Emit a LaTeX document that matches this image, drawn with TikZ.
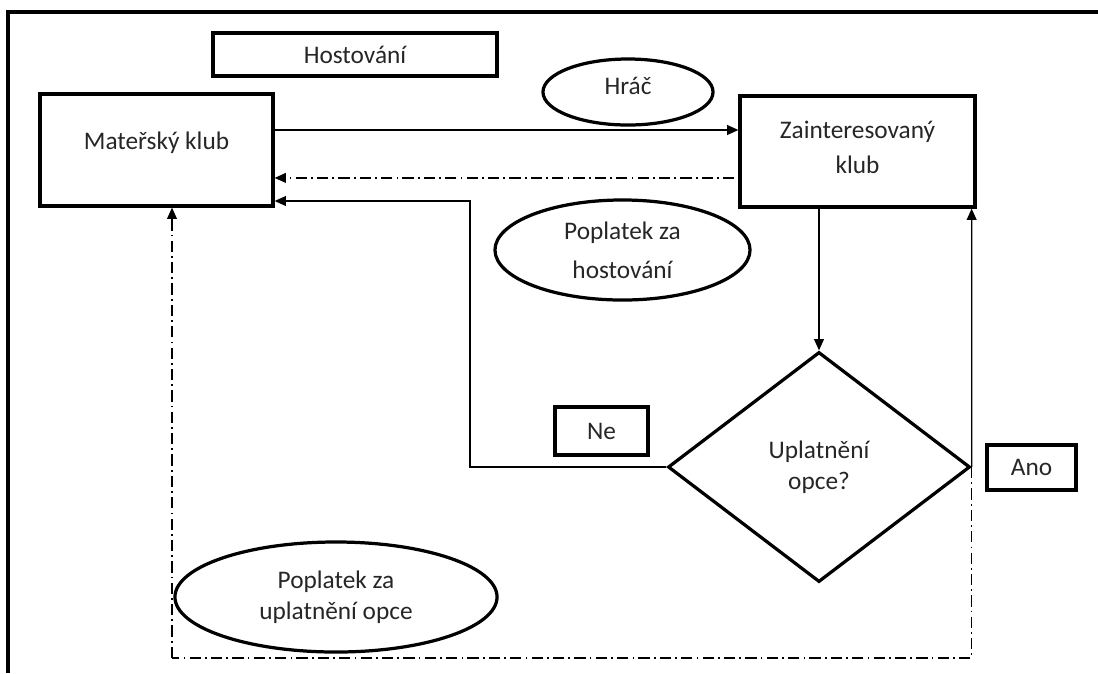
\documentclass[tikz,border=0pt]{standalone}
\usepackage{fontspec}
\setmainfont{Carlito}
\usetikzlibrary{arrows.meta,shapes.geometric}

\tikzset{
  box/.style={draw, line width=2.3pt, inner sep=0pt, align=center},
  oval/.style={draw, ellipse, line width=2.3pt, inner sep=0pt, align=center},
  flow/.style={line width=0.9pt, -{Triangle[length=8pt,width=7pt]}},
  optline/.style={line width=0.9pt, dash pattern=on 8pt off 3pt on 1.2pt off 3pt},
  lbl/.style={font=\fontsize{18}{22}\selectfont, text=black!85}
}

\begin{document}
\begin{tikzpicture}[x=0.025cm, y=-0.025cm]
    \useasboundingbox (0,0) rectangle (1098,673);

    % outer frame (left and top edge only)
    \draw[line width=2.3pt] (8,673) -- (8,12) -- (1098,12);

    % boxes
    \node[box, lbl, minimum width=7.1cm, minimum height=1.075cm] (host) at (355,54.5) {Hostování};
    \node[box, lbl, minimum width=5.825cm, minimum height=2.8cm] (mk) at (156.5,150)
        {\raisebox{4.5mm}{Mateřský klub}};
    \node[box, lbl, minimum width=5.875cm, minimum height=2.775cm,
          font=\fontsize{18}{25}\selectfont] (zk) at (857.5,151.5)
        {\raisebox{7mm}{\parbox{5cm}{\centering Zainteresovaný\\klub}}};
    \node[box, lbl, minimum width=2.325cm, minimum height=1.2cm] (ne) at (601.5,431) {Ne};
    \node[box, lbl, minimum width=2.225cm, minimum height=1.125cm] (ano) at (1031.5,467.5) {Ano};

    % ovals
    \node[oval, lbl, minimum width=4.25cm, minimum height=1.65cm] (hrac) at (628,92)
        {\raisebox{3mm}{Hráč}};
    \node[oval, lbl, minimum width=6.375cm, minimum height=2.5cm,
          font=\fontsize{18}{28}\selectfont] (fee1) at (622.5,250) {Poplatek za\\hostování};
    \node[oval, lbl, minimum width=8.05cm, minimum height=2.75cm] (fee2) at (336,597)
        {\raisebox{2mm}{\parbox{4.2cm}{\centering Poplatek za\\uplatnění opce}}};

    % decision
    \node[draw, diamond, line width=2.3pt, inner sep=0pt, aspect=1.31,
          minimum width=7.55cm, minimum height=5.75cm, lbl, align=center] (dm) at (819,467) {Uplatnění\\opce?};

    % connectors
    \draw[flow] ([yshift=5mm]mk.east) -- ([yshift=5mm]mk.east -| zk.west);
    \draw[optline, -{Triangle[length=8pt,width=7pt]}] ([yshift=-6.6mm,xshift=-1mm]zk.west) -- ([yshift=-6.6mm]zk.west -| mk.east);
    \draw[flow] (zk.south -| dm.north) -- (dm.north);

    % no -> back to the parent club
    \coordinate (nebend) at (470,201);
    \draw[flow] (dm.west) -| (nebend) -- (nebend -| mk.east);

    % yes -> interested club
    \draw[flow] (dm.east) -- ([xshift=-1.25mm]zk.south east);

    % option fee back to the parent club
    \coordinate (optc) at (172,658);
    \draw[optline] (dm.east) |- (optc);
    \draw[optline, -{Triangle[length=8pt,width=7pt]}] (optc) -- (optc |- mk.south);
\end{tikzpicture}
\end{document}
